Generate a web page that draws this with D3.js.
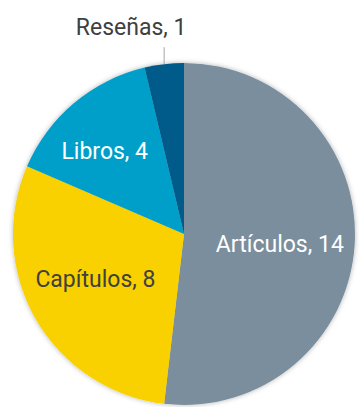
<!DOCTYPE html>
<html>
<head>
<meta charset="utf-8">
<script src="https://cdn.jsdelivr.net/npm/d3@7"></script>
<style>
  html, body { margin: 0; padding: 0; background: #fff; }
  svg { display: block; }
  text { font-family: "Roboto", "Liberation Sans", sans-serif; font-size: 23px; }
</style>
</head>
<body>
<svg id="chart" width="359" height="407"></svg>
<script>
// Publication counts by type
const categories = ["Artículos", "Capítulos", "Libros", "Reseñas"];
const counts = [14, 8, 4, 1];

const colors = ["#7a8e9e", "#f9d100", "#009fca", "#005a8a"];
const labelColors = ["#ffffff", "#404040", "#ffffff", "#404040"];

const cx = 184, cy = 234, radius = 171;

const svg = d3.select("#chart");

const defs = svg.append("defs");
const shadow = defs.append("filter").attr("id", "pieShadow")
  .attr("x", "-10%").attr("y", "-10%").attr("width", "120%").attr("height", "120%");
shadow.append("feDropShadow")
  .attr("dx", 0).attr("dy", 0).attr("stdDeviation", 2.5)
  .attr("flood-color", "#000").attr("flood-opacity", 0.3);

const data = categories.map((c, i) => ({ name: c, value: counts[i], i }));

const pie = d3.pie().value(d => d.value).sort(null);
const arcs = pie(data);
const arc = d3.arc().innerRadius(0).outerRadius(radius);

const g = svg.append("g").attr("transform", `translate(${cx},${cy})`);

g.append("g").attr("filter", "url(#pieShadow)")
  .selectAll("path")
  .data(arcs)
  .join("path")
  .attr("d", arc)
  .attr("fill", d => colors[d.data.i]);

// Inside labels sit near each slice's bisector with a small nudge;
// the thin slice gets an outside label with a leader line
const labelRadius = 100;
const nudge = { "Artículos": [-4, 4], "Capítulos": [-2, -5.5], "Libros": [-15, -6] };

arcs.forEach(a => {
  const mid = (a.startAngle + a.endAngle) / 2;
  const dx = Math.sin(mid), dy = -Math.cos(mid);
  const txt = `${a.data.name}, ${a.data.value}`;
  const n = nudge[a.data.name];
  if (n) {
    g.append("text")
      .attr("x", dx * labelRadius + n[0])
      .attr("y", dy * labelRadius + n[1])
      .attr("dy", "0.35em")
      .attr("text-anchor", "middle")
      .attr("fill", labelColors[a.data.i])
      .text(txt);
  } else {
    const p0 = [dx * radius, dy * radius];
    const p1 = [p0[0], p0[1] - 17];
    g.append("line")
      .attr("x1", p0[0]).attr("y1", p0[1])
      .attr("x2", p1[0]).attr("y2", p1[1])
      .attr("stroke", "#a6a6a6").attr("stroke-width", 1);
    g.append("text")
      .attr("x", p1[0] - 33)
      .attr("y", p1[1] - 12)
      .attr("text-anchor", "middle")
      .attr("fill", labelColors[a.data.i])
      .text(txt);
  }
});
</script>
</body>
</html>
